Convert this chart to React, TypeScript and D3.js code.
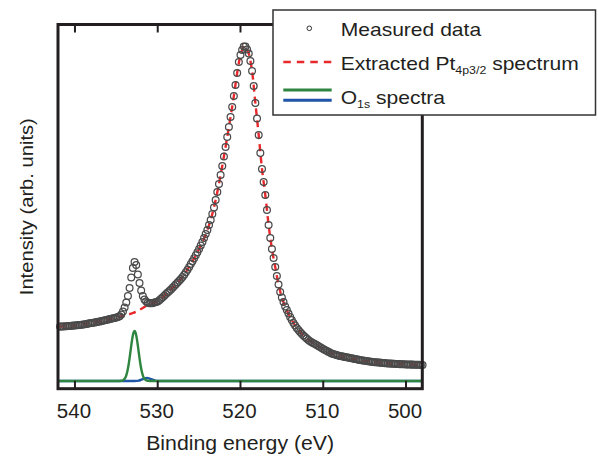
import * as d3 from "d3";

const WIDTH = 598;
const HEIGHT = 457;
// plot frame edges in px
const FRAME = { left: 58, right: 422.3, top: 24.5, bottom: 388.7 };
const FONT = "'Liberation Sans', Arial, Helvetica, sans-serif";
const INK = "#231f20";

// measured points: binding energy grid (eV) and intensity (arb. units)
const energyStart = 541.8;
const energyStep = 0.2;
const measured = [
  544, 545, 546, 547, 548, 550, 551, 552, 554, 555,
  557, 559, 561, 563, 565, 568, 571, 574, 577, 580,
  583, 586, 589, 592, 595, 599, 603, 607, 611, 615,
  619, 623, 627, 631, 635, 640, 648, 665, 695, 735,
  785, 850, 930, 1035, 1130, 1190, 1160, 1065, 980, 905,
  850, 815, 795, 783, 777, 777, 779, 784, 790, 796,
  807, 822, 837, 853, 870, 885, 900, 915, 932, 950,
  967, 985, 1002, 1020, 1040, 1063, 1087, 1112, 1140, 1170,
  1198, 1227, 1257, 1288, 1320, 1355, 1390, 1430, 1470, 1510,
  1560, 1610, 1670, 1735, 1810, 1890, 1970, 2060, 2150, 2245,
  2340, 2440, 2540, 2640, 2740, 2850, 2960, 3080, 3190, 3260,
  3310, 3345, 3345, 3315, 3275, 3200, 3100, 2950, 2780, 2625,
  2460, 2280, 2120, 1990, 1860, 1710, 1560, 1430, 1320, 1230,
  1140, 1050, 965, 890, 835, 790, 745, 710, 675, 640,
  610, 580, 555, 530, 510, 490, 472, 455, 440, 425,
  410, 398, 387, 378, 370, 360, 350, 340, 330, 320,
  311, 302, 293, 284, 275, 270, 265, 260, 255, 250,
  247, 244, 241, 238, 235, 231, 228, 224, 220, 217,
  214, 211, 208, 205, 202, 200, 197, 195, 192, 190,
  188, 187, 185, 184, 182, 181, 179, 178, 176, 175,
  174, 173, 172, 171, 170, 169, 168, 168, 167, 166,
  165, 165, 164, 164, 163, 163, 162, 162, 161, 161,
];

// extracted Pt 4p3/2 spectrum
const ptEnergy = [
  542, 540, 538, 536, 535, 534, 533, 532, 531, 530, 529, 528, 527, 526, 525, 524,
  523.5, 523, 522.5, 522, 521.6, 521.2, 520.8, 520.4, 520, 519.8, 519.6, 519.4,
  519.2, 519, 518.8, 518.6, 518.2, 517.8, 517.4, 517, 516.6, 516.2, 515.8, 515.4,
  515, 514.5, 514, 513, 512, 511, 510, 508, 506, 504, 502, 500, 498,
];
const ptValue = [
  544, 555, 580, 615, 635, 655, 680, 720, 770, 796, 870, 950, 1040, 1170, 1320, 1510,
  1640, 1810, 2015, 2245, 2440, 2640, 2850, 3080, 3260, 3310, 3345, 3345,
  3315, 3275, 3200, 3100, 2780, 2460, 2120, 1860, 1560, 1320, 1140, 965,
  835, 727, 640, 510, 425, 370, 320, 250, 217, 190, 175, 166, 161,
];

// O 1s components
const o1sAEnergy = [
  542, 535, 534.4, 534.3, 534.2, 534.1, 534.0, 533.9, 533.8, 533.7, 533.6, 533.5,
  533.4, 533.3, 533.2, 533.1, 533.0, 532.9, 532.8, 532.7, 532.6, 532.5, 532.4,
  532.3, 532.2, 532.1, 532.0, 531.9, 531.8, 531.7, 531.6, 531.5, 531.4, 531.3,
  531.2, 530.6, 498,
];
const o1sAValue = [
  0, 0, 2, 4, 7, 13, 22, 36, 57, 86, 125, 173,
  229, 291, 353, 411, 458, 489, 500, 489, 458, 411, 353,
  291, 229, 173, 125, 86, 57, 36, 22, 13, 7, 4,
  2, 0, 0,
];
const o1sBEnergy = [
  542, 532.8, 532.55, 532.3, 532.05, 531.8, 531.55, 531.3, 531.05, 530.8, 530.55,
  530.3, 530.05, 529.8, 498,
];
const o1sBValue = [0, 0, 1, 4, 10, 18, 26, 30, 26, 18, 10, 4, 1, 0, 0];

const xTicks = [540, 530, 520, 510, 500];

const COLORS = {
  points: "#4a4a4a",
  pt: "#e8282b",
  o1sA: "#2e8540",
  o1sB: "#1f55a8",
};

const zip = (a: number[], b: number[]) => a.map((e, i) => [e, b[i]] as [number, number]);

const Stretch = ({ x, y, sx, size, children }: any) => (
  <g transform={`translate(${x},${y}) scale(${sx},1)`}>
    <text x={0} y={0} fontSize={size} fontFamily={FONT} fill={INK}>
      {children}
    </text>
  </g>
);

export default function App() {
  const x = d3.scaleLinear().domain([542.05, 498.03]).range([FRAME.left, FRAME.right]);
  const y = d3.scaleLinear().domain([-77, 3565]).range([FRAME.bottom, FRAME.top]);

  const line = d3
    .line<[number, number]>()
    .x((d) => x(d[0]))
    .y((d) => y(d[1]))
    .curve(d3.curveMonotoneX);

  const points = measured.map((v, i) => [+(energyStart - i * energyStep).toFixed(2), v]);

  const legendX = 273;
  const legendTextX = 340.7;

  return (
    <svg
      width={WIDTH}
      height={HEIGHT}
      style={{ position: "absolute", left: 0, top: 0, background: "#fff" }}
    >
      {/* O 1s components */}
      <path d={line(zip(o1sBEnergy, o1sBValue)) ?? ""} fill="none" stroke={COLORS.o1sB} strokeWidth={2.4} />
      <path d={line(zip(o1sAEnergy, o1sAValue)) ?? ""} fill="none" stroke={COLORS.o1sA} strokeWidth={2.4} />

      {/* extracted spectrum */}
      <path
        d={line(zip(ptEnergy, ptValue)) ?? ""}
        fill="none"
        stroke={COLORS.pt}
        strokeWidth={2.4}
        strokeDasharray="7,5"
      />

      {/* measured data */}
      {points.map((d, i) => (
        <circle key={i} cx={x(d[0])} cy={y(d[1])} r={3.4} fill="none" stroke={COLORS.points} strokeWidth={1.25} />
      ))}

      {/* frame */}
      <rect
        x={FRAME.left}
        y={FRAME.top}
        width={FRAME.right - FRAME.left}
        height={FRAME.bottom - FRAME.top}
        fill="none"
        stroke={INK}
        strokeWidth={3}
      />
      {xTicks.map((t) => (
        <g key={t}>
          <line x1={x(t)} x2={x(t)} y1={FRAME.bottom} y2={FRAME.bottom - 8} stroke={INK} strokeWidth={2} />
          <line x1={x(t)} x2={x(t)} y1={FRAME.top} y2={FRAME.top + 8} stroke={INK} strokeWidth={2} />
          <text
            x={x(t) - 1}
            y={418}
            textAnchor="middle"
            fontSize={20.5}
            fontFamily={FONT}
            fill={INK}
          >
            {t}
          </text>
        </g>
      ))}

      <text
        x={(FRAME.left + FRAME.right) / 2}
        y={450}
        textAnchor="middle"
        fontSize={19.5}
        fontFamily={FONT}
        fill={INK}
        textLength={188}
        lengthAdjust="spacingAndGlyphs"
      >
        Binding energy (eV)
      </text>
      <text
        transform="translate(32.5,206.7) rotate(-90)"
        textAnchor="middle"
        fontSize={19}
        fontFamily={FONT}
        fill={INK}
        textLength={177}
        lengthAdjust="spacingAndGlyphs"
      >
        Intensity (arb. units)
      </text>

      {/* legend */}
      <rect x={legendX} y={10} width={595.5 - legendX} height={105} fill="#fff" stroke="#333" strokeWidth={1.5} />
      <circle cx={309.3} cy={28.3} r={2.3} fill="none" stroke="#333" strokeWidth={1} />
      <Stretch x={legendTextX} y={35.7} sx={1.19} size={17.7}>
        Measured data
      </Stretch>
      <line x1={283.3} x2={331.7} y1={62} y2={62} stroke={COLORS.pt} strokeWidth={2.6} strokeDasharray="7.5,6" />
      <Stretch x={legendTextX} y={70} sx={1.19} size={17.7}>
        Extracted Pt
        <tspan fontSize={10.4} dy={4}>4p3/2</tspan>
        <tspan dy={-4}> spectrum</tspan>
      </Stretch>
      <line x1={283.3} x2={331.7} y1={90} y2={90} stroke={COLORS.o1sA} strokeWidth={3} />
      <line x1={283.3} x2={331.7} y1={100.3} y2={100.3} stroke={COLORS.o1sB} strokeWidth={3} />
      <Stretch x={legendTextX} y={104} sx={1.19} size={17.7}>
        O
        <tspan fontSize={10.4} dy={4}>1s</tspan>
        <tspan dy={-4}> spectra</tspan>
      </Stretch>
    </svg>
  );
}
